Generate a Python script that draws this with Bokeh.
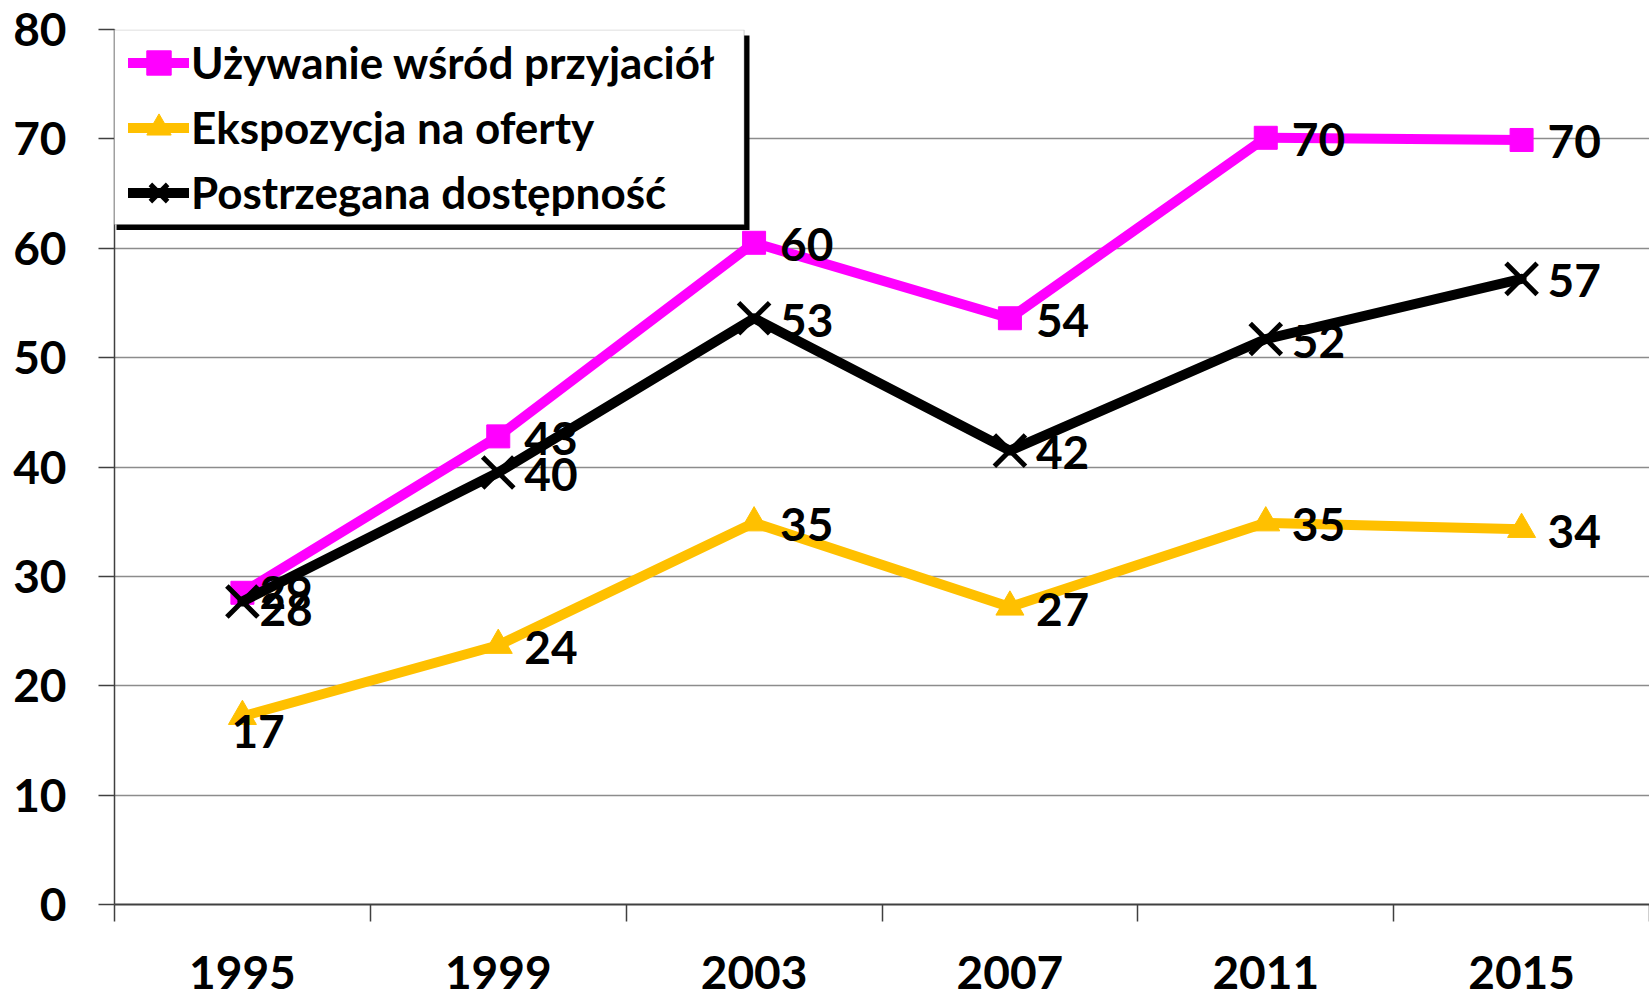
from bokeh.plotting import figure
from bokeh.models import Range1d, FixedTicker, Legend, LegendItem, BoxAnnotation, ColumnDataSource
from bokeh.embed import file_html
from bokeh.resources import INLINE
from bokeh.core.properties import value

# ---------------- data ----------------
years = ["1995", "1999", "2003", "2007", "2011", "2015"]
series_names = ["Używanie wśród przyjaciół", "Ekspozycja na oferty", "Postrzegana dostępność"]
uzywanie = [28.5, 42.8, 60.5, 53.6, 70.1, 69.9]
uzywanie_labels = ["29", "43", "60", "54", "70", "70"]
ekspozycja = [17.2, 23.7, 34.9, 27.2, 34.9, 34.3]
ekspozycja_labels = ["17", "24", "35", "27", "35", "34"]
dostepnosc = [27.7, 39.5, 53.6, 41.5, 51.7, 57.2]
dostepnosc_labels = ["28", "40", "53", "42", "52", "57"]
y_ticks = [0, 10, 20, 30, 40, 50, 60, 70, 80]

# ---------------- geometry ----------------
W, H = 1649, 992
BL, BR, BT, BB = 114, 0, 29, 88
FW = W - BL - BR
FH = H - BT - BB
n = len(years)
YMAX = 80

def dx(px):
    return -0.5 + (px - BL) * n / FW

def dy(py):
    return (BT + FH - py) * YMAX / FH

FONT = "Lato"
PINK = "#FF00FF"
AMBER = "#FFC000"
BLACK = "#000000"
GRID = "#8C8C8C"

p = figure(width=W, height=H, output_backend="svg", toolbar_location=None,
           x_range=Range1d(-0.5, n - 0.5), y_range=Range1d(0, YMAX),
           min_border_left=BL, min_border_right=BR, min_border_top=BT, min_border_bottom=BB)
p.outline_line_color = None
p.background_fill_color = "white"
p.border_fill_color = "white"

# grid
p.xgrid.visible = False
p.ygrid.ticker = FixedTicker(ticks=y_ticks)
p.ygrid.grid_line_color = GRID
p.ygrid.grid_line_width = 1.5

# y axis
p.yaxis.ticker = FixedTicker(ticks=y_ticks)
p.yaxis.axis_line_color = "#404040"
p.yaxis.axis_line_width = 1.5
p.yaxis.major_tick_line_color = "#404040"
p.yaxis.major_tick_line_width = 1.5
p.yaxis.major_tick_out = 16
p.yaxis.major_tick_in = 0
p.yaxis.minor_tick_line_color = None
p.yaxis.major_label_text_font = FONT
p.yaxis.major_label_text_font_style = "bold"
p.yaxis.major_label_text_font_size = "46px"
p.yaxis.major_label_text_color = "black"
p.yaxis.major_label_standoff = 32

# x axis (categories at integer positions, ticks at boundaries)
idx = list(range(n))
p.xaxis.ticker = FixedTicker(ticks=idx, minor_ticks=[i - 0.5 for i in range(n + 1)])
p.xaxis.major_label_overrides = {i: years[i] for i in idx}
p.xaxis.axis_line_color = "#404040"
p.xaxis.axis_line_width = 2
p.xaxis.major_tick_line_color = None
p.xaxis.major_tick_out = 0
p.xaxis.major_tick_in = 0
p.xaxis.minor_tick_line_color = "#404040"
p.xaxis.minor_tick_line_width = 1.5
p.xaxis.minor_tick_out = 17
p.xaxis.minor_tick_in = 0
p.xaxis.major_label_text_font = FONT
p.xaxis.major_label_text_font_style = "bold"
p.xaxis.major_label_text_font_size = "46px"
p.xaxis.major_label_text_color = "black"
p.xaxis.major_label_standoff = 34

# legend frame + shadow (drawn below the legend)
shadow = BoxAnnotation(left=dx(116), right=dx(749), top=dy(35), bottom=dy(229.5),
                       fill_color="black", fill_alpha=1, line_color=None, level="annotation")
frame_box = BoxAnnotation(left=dx(110.7), right=dx(743.6), top=dy(29.5), bottom=dy(224),
                          fill_color="white", fill_alpha=1, line_color="#707070", line_width=1.2,
                          level="annotation")
p.add_layout(shadow)
p.add_layout(frame_box)

series = [
    (uzywanie, uzywanie_labels, PINK, "square", 23, (17, 0)),
    (ekspozycja, ekspozycja_labels, AMBER, "triangle", 28, (-11, 15)),
    (dostepnosc, dostepnosc_labels, BLACK, "x", 44, (17, 8)),
]

items = []
for (vals, labs, col, mk, sz, first_off), name in zip(series, series_names):
    src = ColumnDataSource(dict(x=idx, y=vals, lab=labs))
    lr = p.line("x", "y", source=src, line_color=col, line_width=10, line_join="round", line_cap="round")
    if mk == "x":
        mr = p.scatter("x", "y", source=src, marker="x", size=sz, line_color=col, line_width=5)
    else:
        mr = p.scatter("x", "y", source=src, marker=mk, size=sz, fill_color=col, line_color=col)
    items.append(LegendItem(label=name, renderers=[lr, mr]))
    # data labels: first point separately, the rest to the right of the marker
    first = ColumnDataSource(dict(x=idx[:1], y=vals[:1], lab=labs[:1]))
    rest = ColumnDataSource(dict(x=idx[1:], y=vals[1:], lab=labs[1:]))
    p.text("x", "y", text="lab", source=rest, text_font=value(FONT), text_font_style="bold",
           text_font_size="46px", text_color="black", text_baseline="middle", text_align="left",
           x_offset=26, y_offset=2)
    p.text("x", "y", text="lab", source=first, text_font=value(FONT), text_font_style="bold",
           text_font_size="46px", text_color="black", text_baseline="middle", text_align="left",
           x_offset=first_off[0], y_offset=first_off[1])

legend = Legend(items=items, location=(14, FH - (29.5 + 195 - BT)), orientation="vertical",
                padding=0, spacing=0, margin=0,
                label_height=65, glyph_height=65, glyph_width=61, label_standoff=2,
                label_text_font=FONT, label_text_font_style="bold", label_text_font_size="44px",
                label_text_color="black",
                background_fill_alpha=0, border_line_color=None)
p.add_layout(legend)

open("out.html", "w").write(file_html(p, INLINE))
